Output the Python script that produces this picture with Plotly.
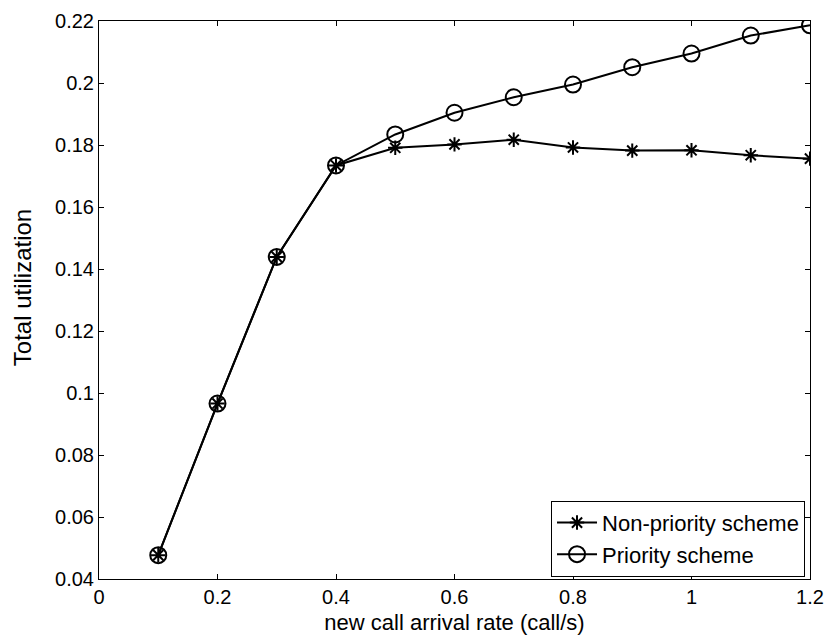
import plotly.graph_objects as go

x_rate = [0.1, 0.2, 0.3, 0.4, 0.5, 0.6, 0.7, 0.8, 0.9, 1.0, 1.1, 1.2]
non_priority = [0.0477, 0.0966, 0.1439, 0.1734, 0.1791, 0.1802, 0.1817, 0.1792, 0.1782, 0.1783, 0.1767, 0.1756]
priority = [0.0477, 0.0966, 0.1439, 0.1734, 0.1834, 0.1904, 0.1954, 0.1995, 0.2051, 0.2095, 0.2153, 0.2186]

x_ticks = [0, 0.2, 0.4, 0.6, 0.8, 1.0, 1.2]
x_tick_labels = ["0", "0.2", "0.4", "0.6", "0.8", "1", "1.2"]
y_ticks = [0.04, 0.06, 0.08, 0.10, 0.12, 0.14, 0.16, 0.18, 0.20, 0.22]
y_tick_labels = ["0.04", "0.06", "0.08", "0.1", "0.12", "0.14", "0.16", "0.18", "0.2", "0.22"]

fig = go.Figure()
fig.add_trace(go.Scatter(
    x=x_rate, y=non_priority, mode="lines+markers", name="Non-priority scheme",
    line=dict(color="black", width=2),
    marker=dict(symbol="asterisk-open", size=12, color="black", line=dict(color="black", width=2)),
))
fig.add_trace(go.Scatter(
    x=x_rate, y=priority, mode="lines+markers", name="Priority scheme",
    line=dict(color="black", width=2),
    marker=dict(symbol="circle-open", size=16, color="black", line=dict(color="black", width=2)),
))

axis_common = dict(
    showline=True, linecolor="black", linewidth=1, mirror="ticks",
    ticks="inside", ticklen=5, tickcolor="black", showgrid=False, zeroline=False,
    automargin=False,
    tickfont=dict(family="Liberation Sans, Arial, sans-serif", size=20, color="black"),
)

fig.update_layout(
    width=824, height=635,
    margin=dict(l=99, r=14, t=21, b=56),
    paper_bgcolor="white", plot_bgcolor="white",
    font=dict(family="Liberation Sans, Arial, sans-serif", color="black"),
    xaxis=dict(range=[0, 1.2], tickvals=x_ticks, ticktext=x_tick_labels,
               title=dict(text="new call arrival rate (call/s)", font=dict(size=22), standoff=7),
               **axis_common),
    yaxis=dict(range=[0.04, 0.22], tickvals=y_ticks, ticktext=y_tick_labels,
               **axis_common),
    legend=dict(x=0.993, y=0.004, xanchor="right", yanchor="bottom",
                bordercolor="black", borderwidth=1, bgcolor="white",
                font=dict(size=22), tracegroupgap=0, itemwidth=40),
    showlegend=True,
    annotations=[dict(text="Total utilization", textangle=-90, showarrow=False,
                      xref="paper", yref="paper", x=-0.108, y=0.5215,
                      xanchor="center", yanchor="middle",
                      font=dict(size=24, color="black"))],
)

fig.write_html("out.html")
